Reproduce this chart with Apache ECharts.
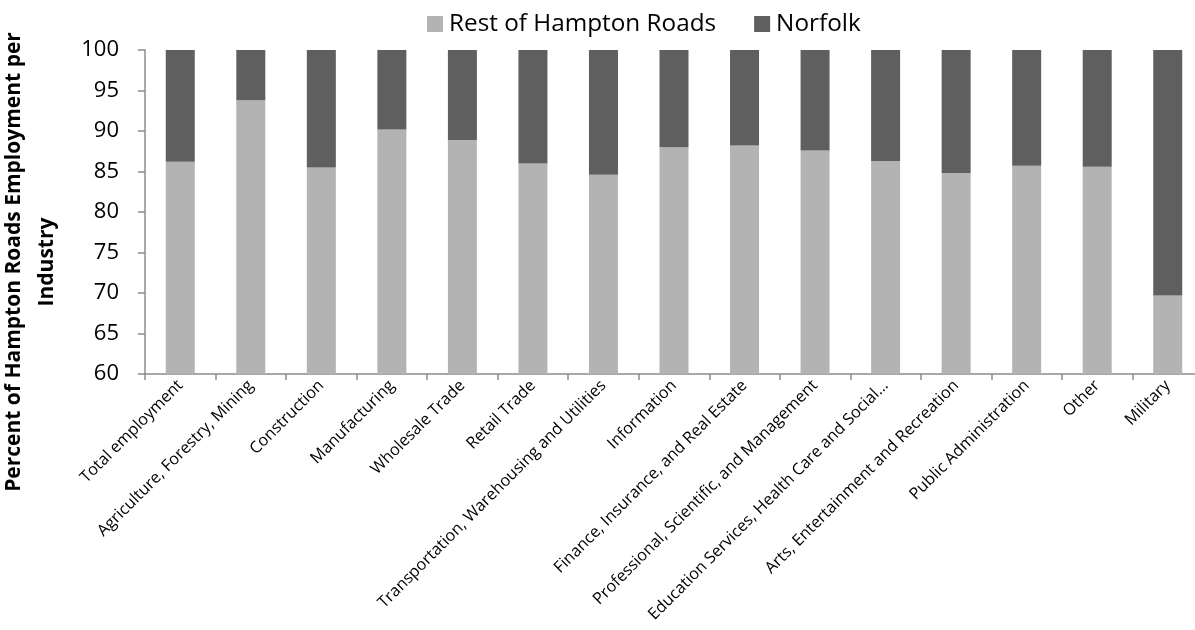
<!DOCTYPE html>
<html>
<head>
<meta charset="utf-8">
<script src="https://cdn.jsdelivr.net/npm/echarts@6/dist/echarts.min.js"></script>
<style>
  html, body { margin: 0; padding: 0; background: #fff; }
  #chart { width: 1195px; height: 630px; }
</style>
</head>
<body>
<div id="chart"></div>
<script>
// Share of Hampton Roads employment by industry: Norfolk vs. the rest of the region
var categories = [
  'Total employment',
  'Agriculture, Forestry, Mining',
  'Construction',
  'Manufacturing',
  'Wholesale Trade',
  'Retail Trade',
  'Transportation, Warehousing and Utilities',
  'Information',
  'Finance, Insurance, and Real Estate',
  'Professional, Scientific, and Management',
  'Education Services, Health Care and Social\u2026',
  'Arts, Entertainment and Recreation',
  'Public Administration',
  'Other',
  'Military'
];
var restOfHamptonRoads = [86.2, 93.8, 85.5, 90.2, 88.9, 86.0, 84.6, 88.0, 88.2, 87.6, 86.3, 84.8, 85.7, 85.6, 69.7];
var norfolk = [13.8, 6.2, 14.5, 9.8, 11.1, 14.0, 15.4, 12.0, 11.8, 12.4, 13.7, 15.2, 14.3, 14.4, 30.3];
var yTicks = { min: 60, max: 100, interval: 5 };

var axisGray = '#8c8c8c';
var labelFont = '"Open Sans", "DejaVu Sans", sans-serif';

var chart = echarts.init(document.getElementById('chart'));
chart.setOption({
  animation: false,
  backgroundColor: '#ffffff',
  legend: {
    top: 7,
    left: 422,
    itemWidth: 16,
    itemHeight: 16,
    itemGap: 38,
    icon: 'rect',
    textStyle: { fontFamily: labelFont, fontSize: 24.3, color: '#000', padding: [0, 0, 0, 1] },
    data: ['Rest of Hampton Roads', 'Norfolk']
  },
  grid: {
    left: 145,
    top: 50,
    width: 1058,
    height: 324,
    containLabel: false,
    outerBoundsMode: 'none'
  },
  xAxis: {
    type: 'category',
    data: categories,
    axisLine: { lineStyle: { color: axisGray, width: 1.5 } },
    axisTick: { show: true, length: 6, lineStyle: { color: axisGray, width: 1.5 } },
    axisLabel: {
      interval: 0,
      rotate: 45,
      margin: 9,
      fontFamily: labelFont,
      fontSize: 16.2,
      color: '#000'
    }
  },
  yAxis: {
    type: 'value',
    min: yTicks.min,
    max: yTicks.max,
    interval: yTicks.interval,
    axisLine: { show: true, lineStyle: { color: axisGray, width: 1.5 } },
    axisTick: { show: true, length: 7, lineStyle: { color: axisGray, width: 1.5 } },
    splitLine: { show: false },
    axisLabel: { margin: 26, fontFamily: labelFont, fontSize: 22, color: '#000' }
  },
  graphic: [{
    type: 'text',
    x: 31,
    y: 262,
    rotation: Math.PI / 2,
    style: {
      text: 'Percent of Hampton Roads Employment per\nIndustry',
      fontFamily: labelFont,
      fontWeight: 'bold',
      fontSize: 21,
      lineHeight: 33,
      fill: '#000',
      textAlign: 'center',
      textVerticalAlign: 'middle'
    }
  }],
  series: [
    {
      name: 'Rest of Hampton Roads',
      type: 'bar',
      stack: 'total',
      barWidth: 29,
      itemStyle: { color: '#b3b3b3' },
      data: restOfHamptonRoads
    },
    {
      name: 'Norfolk',
      type: 'bar',
      stack: 'total',
      barWidth: 29,
      itemStyle: { color: '#5f5f5f' },
      data: norfolk
    }
  ]
});
</script>
</body>
</html>
